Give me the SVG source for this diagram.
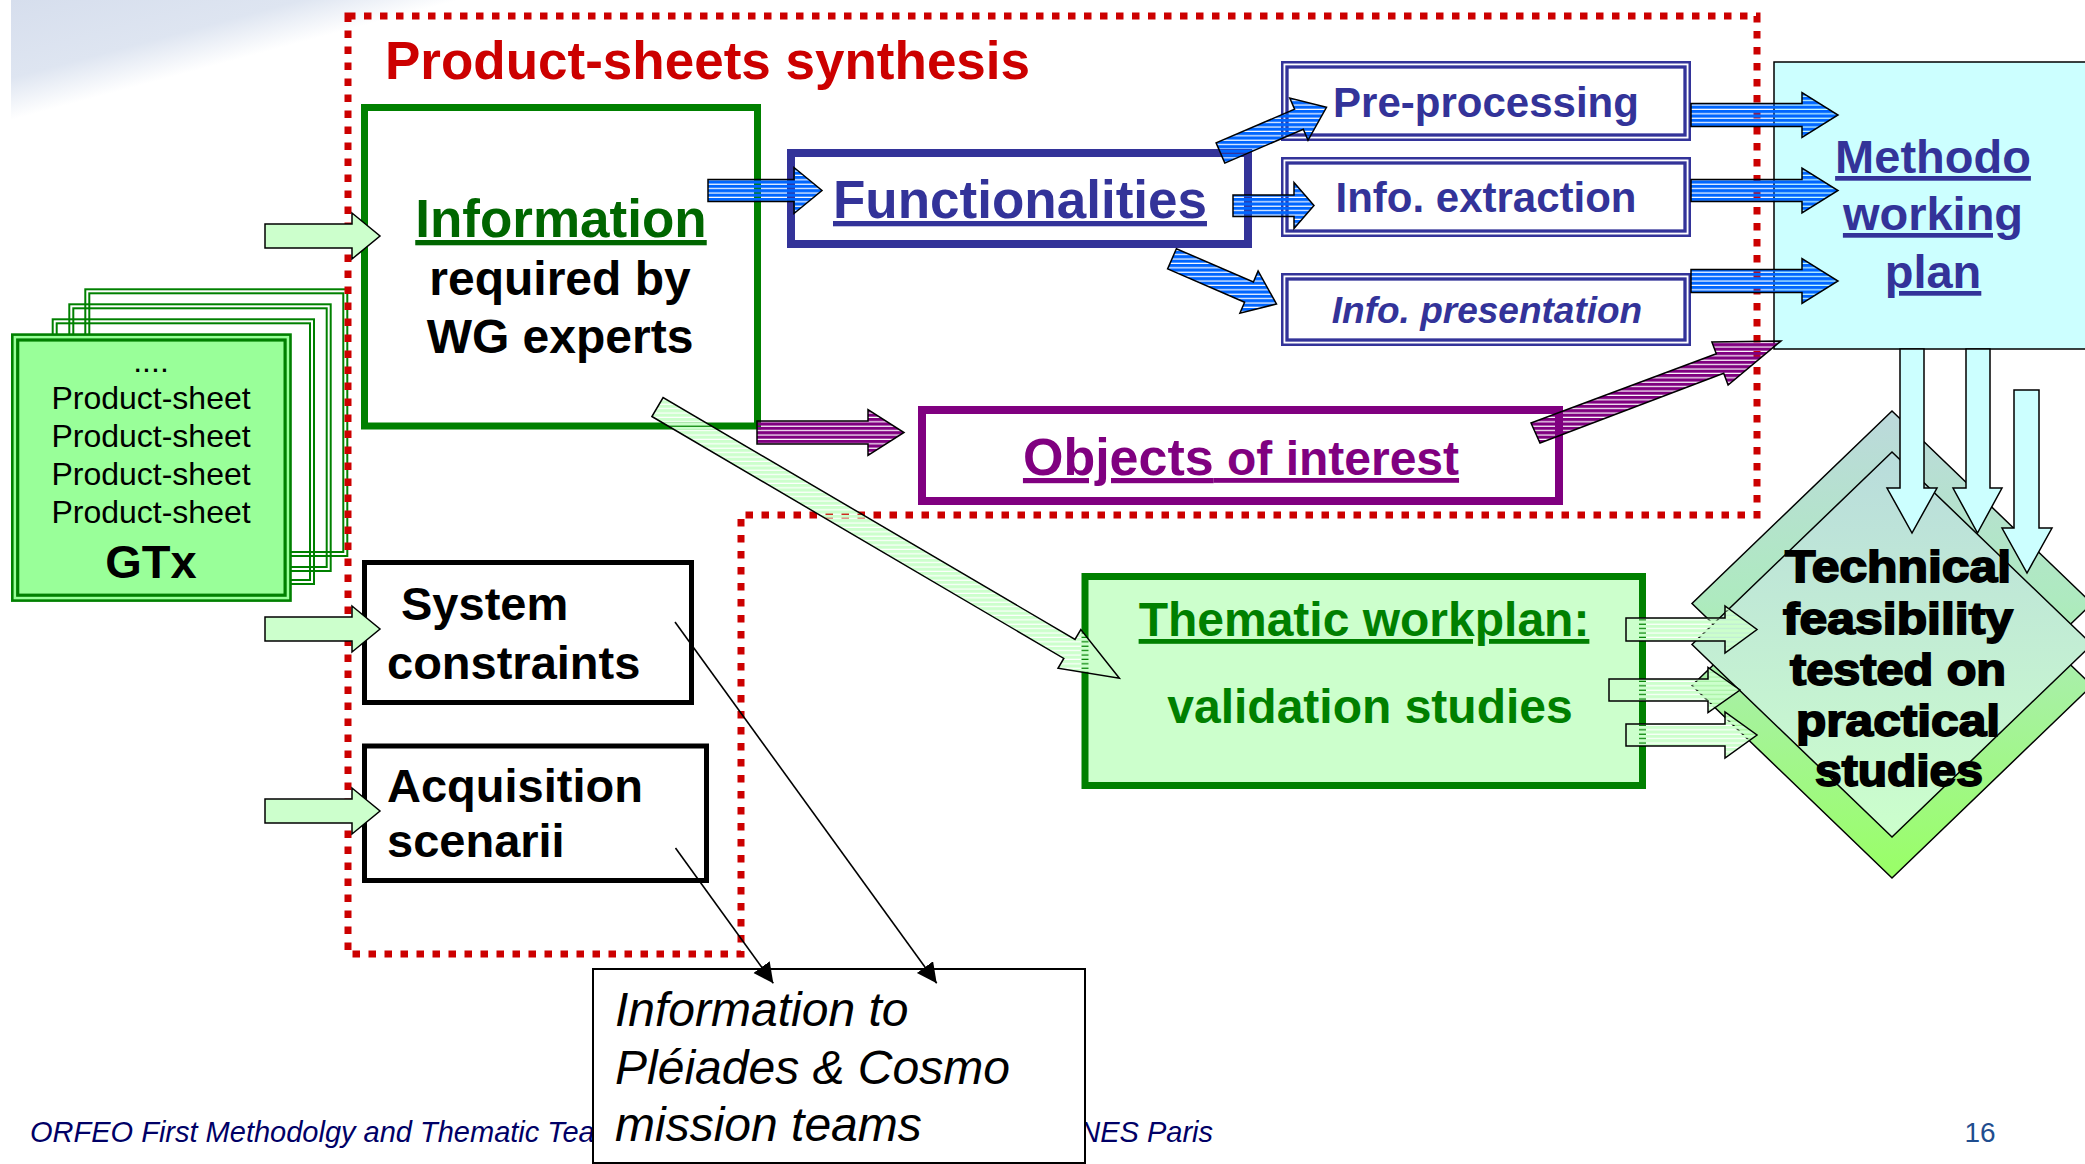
<svg xmlns="http://www.w3.org/2000/svg" width="2085" height="1164" viewBox="0 0 2085 1164">
<defs>
<style>
text { font-family: 'Liberation Sans', Arial, Helvetica, sans-serif; }
.b { font-weight: 700; }
.ul { text-decoration: underline; }
.arr { stroke: #000; stroke-width: 1.5; stroke-linejoin: miter; }
.blue { fill: url(#stBlue); }
.purple { fill: url(#stPurple); }
.pale { fill: url(#stPale); }
.solidg { fill: #ccffcc; }
.cyan { fill: #ccffff; }
.dbl { fill: none; stroke: #333399; }
.gline { fill: none; stroke: #008000; stroke-width: 2; }
.navy { fill: #333399; }
</style>
<linearGradient id="bgFade" gradientUnits="userSpaceOnUse" x1="11" y1="0" x2="41" y2="112">
<stop offset="0" stop-color="#d6deed"/>
<stop offset="0.65" stop-color="#dee5f1"/>
<stop offset="1" stop-color="#ffffff"/>
</linearGradient>
<linearGradient id="gBand" gradientUnits="userSpaceOnUse" x1="0" y1="411" x2="0" y2="878">
<stop offset="0" stop-color="#bcd9dc"/>
<stop offset="0.4" stop-color="#aeeac0"/>
<stop offset="1" stop-color="#99ff66"/>
</linearGradient>
<linearGradient id="gFront" gradientUnits="userSpaceOnUse" x1="0" y1="452" x2="0" y2="837">
<stop offset="0" stop-color="#b9dcdc"/>
<stop offset="1" stop-color="#ccffcc"/>
</linearGradient>
<pattern id="stBlue" patternUnits="userSpaceOnUse" width="8" height="4.4">
<rect width="8" height="3.2" fill="#0066ff"/>
</pattern>
<pattern id="stPurple" patternUnits="userSpaceOnUse" width="8" height="4.4">
<rect width="8" height="3.2" fill="#800080"/>
</pattern>
<pattern id="stPale" patternUnits="userSpaceOnUse" width="8" height="4.4">
<rect width="8" height="3.2" fill="#ccffcc"/>
</pattern>
<marker id="ah" markerUnits="userSpaceOnUse" markerWidth="22" markerHeight="22" refX="20" refY="10" orient="auto">
<path d="M0,0 L20,10 L0,20 Z" fill="#000"/>
</marker>
</defs>

<rect width="2085" height="1164" fill="#ffffff"/>
<polygon points="11,0 480,0 11,126" fill="url(#bgFade)"/>

<g id="footer">
<text x="30" y="1142" font-size="29" font-style="italic" fill="#000066">ORFEO First Methodolgy and Thematic Tea</text>
<text x="1213" y="1142" font-size="29" font-style="italic" fill="#000066" text-anchor="end">NES Paris</text>
<text x="1980" y="1142" font-size="28" fill="#1f4e8f" text-anchor="middle">16</text>
</g>

<g id="info-missions">
<rect x="593" y="969" width="492" height="194" fill="#ffffff" stroke="#000" stroke-width="2"/>
<text x="615" y="1026" font-size="48" font-style="italic" fill="#000">Information to</text>
<text x="615" y="1084" font-size="48" font-style="italic" fill="#000">Pléiades &amp; Cosmo</text>
<text x="615" y="1141" font-size="48" font-style="italic" fill="#000">mission teams</text>
</g>

<g id="gtx-stack">
<rect x="85.3" y="289.3" width="262" height="266.7" fill="#ffffff" class="gline"/>
<rect x="89.3" y="293.3" width="254" height="258.7" class="gline"/>
<rect x="69.3" y="304.3" width="261.4" height="266.7" fill="#ffffff" class="gline"/>
<rect x="73.3" y="308.3" width="253.4" height="258.7" class="gline"/>
<rect x="52.7" y="319.3" width="261.3" height="264.7" fill="#ffffff" class="gline"/>
<rect x="56.7" y="323.3" width="253.3" height="256.7" class="gline"/>
<rect x="12.3" y="334.6" width="278.2" height="266" fill="#99ff99" stroke="#008000" stroke-width="2.6"/>
<rect x="17.7" y="340" width="267.4" height="255.2" fill="none" stroke="#008000" stroke-width="3.2"/>
<text x="151" y="372" font-size="32" text-anchor="middle">....</text>
<text x="151" y="409" font-size="32" text-anchor="middle">Product-sheet</text>
<text x="151" y="447" font-size="32" text-anchor="middle">Product-sheet</text>
<text x="151" y="485" font-size="32" text-anchor="middle">Product-sheet</text>
<text x="151" y="523" font-size="32" text-anchor="middle">Product-sheet</text>
<text x="151" y="578" font-size="47" class="b" text-anchor="middle">GTx</text>
</g>

<g id="synthesis-frame">
<path d="M348,16 H1757 V515 H741 V954 H348 Z" fill="none" stroke="#cc0000" stroke-width="7" stroke-dasharray="7.5 8.5"/>
<text x="385" y="79" font-size="53" class="b" fill="#cc0000">Product-sheets synthesis</text>
</g>

<g id="information">
<rect x="364.5" y="107.5" width="393" height="318.5" fill="#ffffff" stroke="#008000" stroke-width="7"/>
<text x="561" y="237" font-size="53" class="b ul" fill="#006600" text-anchor="middle">Information</text>
<text x="560" y="295" font-size="48" class="b" text-anchor="middle">required by</text>
<text x="560" y="353" font-size="48" class="b" text-anchor="middle">WG experts</text>
</g>

<g id="functionalities">
<rect x="791" y="153" width="457" height="91" fill="#ffffff" stroke="#333399" stroke-width="8"/>
<text x="1020" y="218" font-size="53" class="b ul navy" text-anchor="middle">Functionalities</text>
</g>

<g id="pre-processing">
<rect x="1282.25" y="62.25" width="407.5" height="77.5" fill="#ffffff" class="dbl" stroke-width="2.5"/>
<rect x="1287" y="67" width="398" height="68" class="dbl" stroke-width="3.3"/>
<text x="1486" y="117" font-size="42" class="b navy" text-anchor="middle">Pre-processing</text>
</g>

<g id="info-extraction">
<rect x="1282.25" y="158.25" width="407.5" height="77.5" fill="#ffffff" class="dbl" stroke-width="2.5"/>
<rect x="1287" y="163" width="398" height="68" class="dbl" stroke-width="3.3"/>
<text x="1486" y="212" font-size="42" class="b navy" text-anchor="middle">Info. extraction</text>
</g>

<g id="info-presentation">
<rect x="1282.25" y="274.25" width="407.5" height="70.5" fill="#ffffff" class="dbl" stroke-width="2.5"/>
<rect x="1287" y="279" width="398" height="61" class="dbl" stroke-width="3.3"/>
<text x="1487" y="323" font-size="37" class="b navy" font-style="italic" text-anchor="middle">Info. presentation</text>
</g>

<g id="methodo">
<rect x="1774" y="62" width="320" height="287" fill="#ccffff" stroke="#000" stroke-width="1.5"/>
<text x="1933" y="173" font-size="47" class="b ul navy" text-anchor="middle">Methodo</text>
<text x="1933" y="230" font-size="47" class="b ul navy" text-anchor="middle">working</text>
<text x="1933" y="288" font-size="47" class="b ul navy" text-anchor="middle">plan</text>
</g>

<g id="objects">
<rect x="922" y="410" width="637" height="91" fill="#ffffff" stroke="#800080" stroke-width="8"/>
<text x="1241" y="475" class="b ul" fill="#800080" text-anchor="middle"><tspan font-size="52">Objects</tspan><tspan font-size="48"> of interest</tspan></text>
</g>

<g id="system-constraints">
<rect x="364.5" y="562.5" width="327" height="140" fill="#ffffff" stroke="#000" stroke-width="5"/>
<text x="401" y="620" font-size="47" class="b">System</text>
<text x="387" y="679" font-size="47" class="b">constraints</text>
</g>

<g id="acquisition">
<rect x="364.5" y="746" width="342" height="134.5" fill="#ffffff" stroke="#000" stroke-width="5"/>
<text x="387" y="802" font-size="47" class="b">Acquisition</text>
<text x="387" y="857" font-size="47" class="b">scenarii</text>
</g>

<g id="thematic">
<rect x="1085" y="576.5" width="557.5" height="209" fill="#ccffcc" stroke="#008000" stroke-width="7"/>
<text x="1364" y="636" font-size="48" class="b ul" fill="#008000" text-anchor="middle">Thematic workplan:</text>
<text x="1370" y="723" font-size="48" class="b" fill="#008000" text-anchor="middle">validation studies</text>
</g>

<g id="feasibility">
<polygon points="1892,493 2092,685.5 1892,878 1692,685.5" fill="url(#gBand)" stroke="#000" stroke-width="1.5"/>
<polygon points="1892,411 2092,603.5 1892,796 1692,603.5" fill="url(#gBand)" stroke="#000" stroke-width="1.5"/>
<polygon points="1892,452 2092,644.5 1892,837 1692,644.5" fill="url(#gFront)" stroke="#000" stroke-width="1.5"/>
</g>

<g id="connectors">
<path class="arr solidg" d="M265,224 H352 V213 L380,236 L352,259 V248 H265 Z"/>
<path class="arr solidg" d="M265,617 H352 V606 L380,629 L352,652 V641 H265 Z"/>
<path class="arr solidg" d="M265,799 H352 V788 L380,811 L352,834 V823 H265 Z"/>
<path class="arr blue" d="M708,179.5 H794 V167.5 L822,190.5 L794,213.5 V201.5 H708 Z"/>
<path class="arr blue" d="M1233,195 H1294 V182.5 L1314,205.5 L1294,228.5 V216.5 H1233 Z"/>
<polygon class="arr blue" points="1224.8,163.1 1303.3,129.3 1308,140.3 1326.5,107.3 1289.8,98.1 1294.6,109.1 1216.1,142.9"/>
<polygon class="arr blue" points="1167.6,268.9 1244.6,302.2 1239.9,313.2 1276.5,304 1258.1,271 1253.4,282 1176.4,248.7"/>
<path class="arr blue" d="M1691,103.5 H1802 V92.5 L1838,115 L1802,137.5 V126.5 H1691 Z"/>
<path class="arr blue" d="M1691,179.5 H1802 V168 L1838,190.5 L1802,213 V201.5 H1691 Z"/>
<path class="arr blue" d="M1691,269.5 H1802 V258.5 L1838,281 L1802,303.5 V292.5 H1691 Z"/>
<path class="arr purple" d="M757,421 H868 V409.5 L904,432.5 L868,455.5 V444 H757 Z"/>
<polygon class="arr purple" points="1531,423 1716.3,353.7 1711.9,342 1781,341 1728.1,385 1723.7,373.3 1540,443"/>
<polygon class="arr pale" points="651.9,416.5 1063.8,658.4 1058,668.3 1119.4,678.3 1080.8,629.5 1075,639.4 663.1,397.5"/>
<path class="arr pale" d="M1626,618 H1725 V606 L1757,629.5 L1725,653 V641 H1626 Z"/>
<path class="arr pale" d="M1609,679 H1708 V667.5 L1740,690 L1708,712.5 V701 H1609 Z"/>
<path class="arr pale" d="M1626,724 H1725 V712 L1757,735 L1725,758 V746 H1626 Z"/>
<path class="arr cyan" d="M1900,349 V488 H1887 L1912,533 L1937,488 H1924 V349 Z"/>
<path class="arr cyan" d="M1966,349 V488 H1953 L1977.5,533 L2002,488 H1990 V349 Z"/>
<path class="arr cyan" d="M2014,390 V528 H2002 L2027,573 L2052,528 H2039 V390 Z"/>
<line x1="675" y1="622" x2="936.7" y2="983.3" stroke="#000" stroke-width="1.6" marker-end="url(#ah)"/>
<line x1="675.5" y1="848" x2="773.3" y2="983.3" stroke="#000" stroke-width="1.6" marker-end="url(#ah)"/>
</g>

<g id="feasibility-label" class="b" font-size="44" stroke="#000" stroke-width="1.8" text-anchor="middle">
<text x="1898" y="582" textLength="226" lengthAdjust="spacingAndGlyphs">Technical</text>
<text x="1898" y="634" textLength="230" lengthAdjust="spacingAndGlyphs">feasibility</text>
<text x="1898" y="685" textLength="216" lengthAdjust="spacingAndGlyphs">tested on</text>
<text x="1898" y="736" textLength="204" lengthAdjust="spacingAndGlyphs">practical</text>
<text x="1899" y="786" textLength="168" lengthAdjust="spacingAndGlyphs">studies</text>
</g>
</svg>
